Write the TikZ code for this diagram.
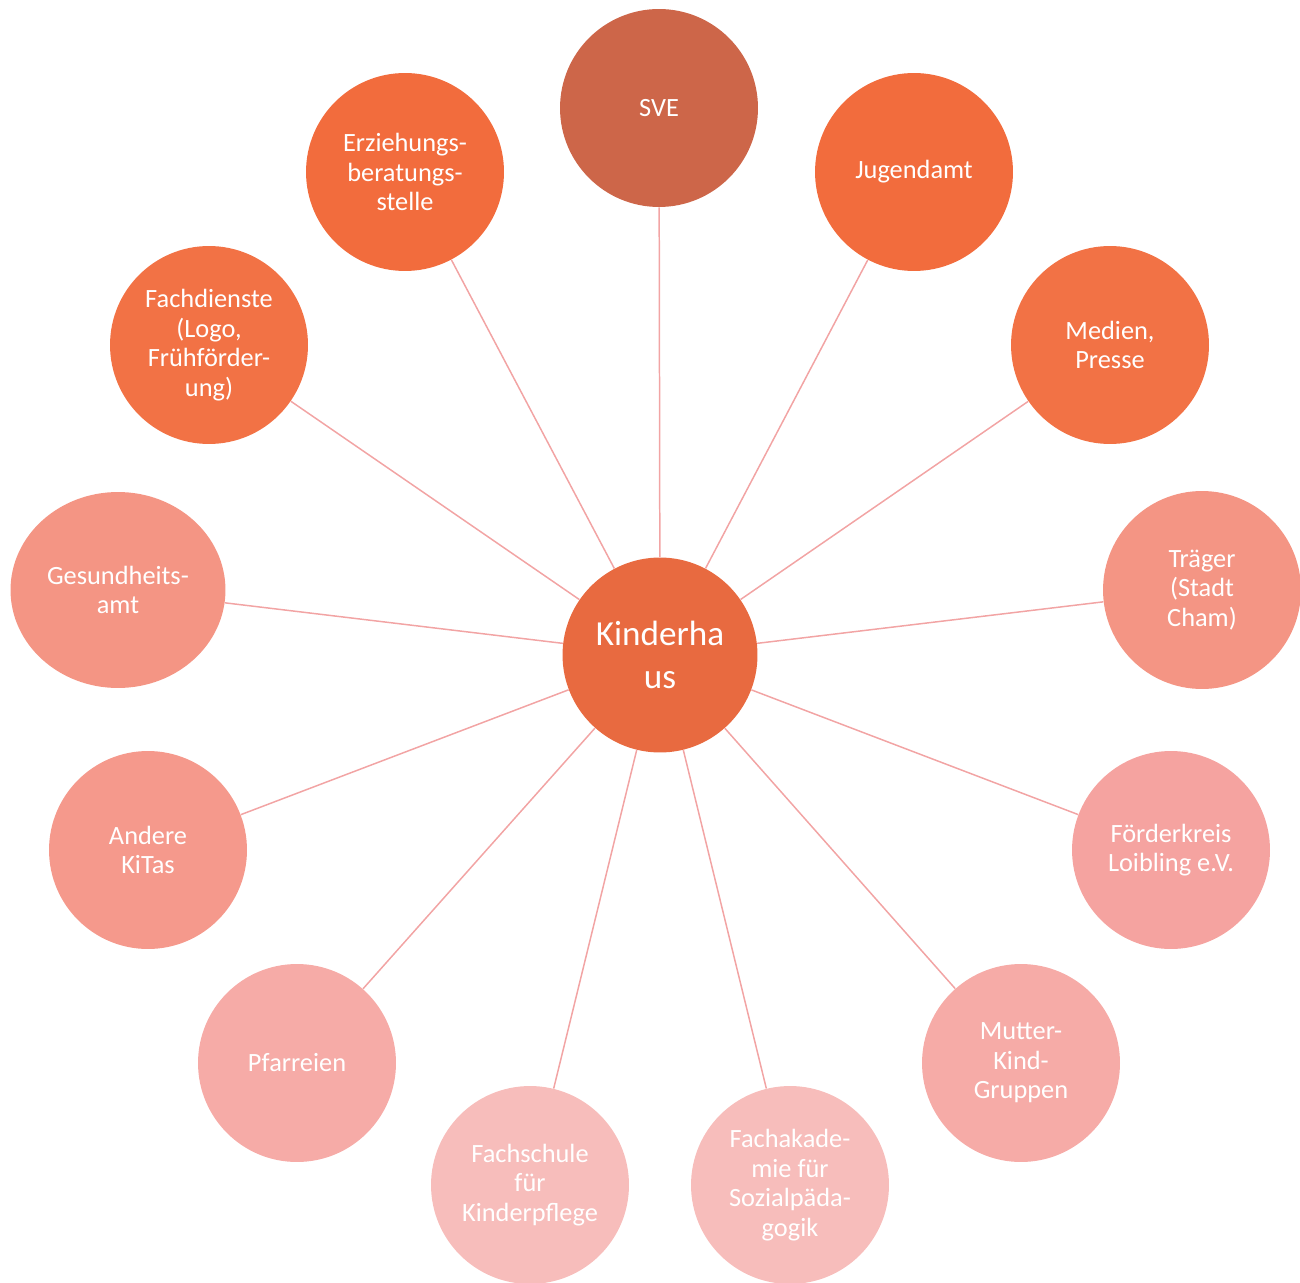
\documentclass[tikz,border=0pt]{standalone}
\usepackage{fontspec}
\setmainfont{Carlito}
\usetikzlibrary{positioning,shapes.geometric}

\definecolor{hubfill}{HTML}{E86A40}
\definecolor{svefill}{HTML}{CD6649}
\definecolor{orangeA}{HTML}{F26C3D}
\definecolor{orangeB}{HTML}{F27245}
\definecolor{salmonA}{HTML}{F49584}
\definecolor{salmonB}{HTML}{F5998C}
\definecolor{pinkA}{HTML}{F5A3A0}
\definecolor{pinkB}{HTML}{F6ABA7}
\definecolor{pinkC}{HTML}{F7BDBB}
\definecolor{spoke}{HTML}{F2A4A4}

\begin{document}
\begin{tikzpicture}[
  x=0.02cm, y=-0.02cm,
  hub/.style={circle, fill=hubfill, minimum size=3.9cm, inner sep=0pt, align=center,
    text=white, font=\fontsize{20}{24}\selectfont},
  partner/.style={circle, minimum size=3.96cm, inner sep=0pt, align=center,
    text=white, font=\fontsize{15}{16.8}\selectfont},
  link/.style={draw=spoke, line width=0.85pt}
]
\useasboundingbox (0,0) rectangle (1300,1283);

% outer ring, clockwise from the top
\node[partner, fill=svefill] (sve) at (659,108) {SVE};
\node[partner, fill=orangeA] (jugend) at (914,172) {Jugendamt};
\node[partner, fill=orangeB] (medien) at (1110,345) {Medien,\\Presse};
\node[partner, fill=salmonA] (traeger) at (1202,590) {Träger\\(Stadt\\Cham)};
\node[partner, fill=pinkA] (foerder) at (1171,850) {Förderkreis\\Loibling e.V.};
\node[partner, fill=pinkB] (mutter) at (1021,1063) {Mutter-\\Kind-\\Gruppen};
\node[partner, fill=pinkC] (akademie) at (790,1185) {Fachakade-\\mie für\\Sozialpäda-\\gogik};
\node[partner, fill=pinkC] (schule) at (530,1185) {Fachschule\\für\\Kinderpflege};
\node[partner, fill=pinkB] (pfarr) at (297,1063) {Pfarreien};
\node[partner, fill=salmonB] (kitas) at (148,850) {Andere\\KiTas};
\node[partner, ellipse, fill=salmonA, minimum width=4.3cm, minimum height=3.92cm] (gesund) at (118,590) {Gesundheits-\\amt};
\node[partner, fill=orangeB] (fachd) at (209,345) {Fachdienste\\(Logo,\\Frühförder-\\ung)};
\node[partner, fill=orangeA] (erzieh) at (405,172) {Erziehungs-\\beratungs-\\stelle};

\node[hub] (haus) at (660,655) {Kinderha\\us};

\foreach \p in {sve,jugend,medien,traeger,foerder,mutter,akademie,schule,pfarr,kitas,gesund,fachd,erzieh}
  \draw[link] (haus) -- (\p);

\end{tikzpicture}
\end{document}
